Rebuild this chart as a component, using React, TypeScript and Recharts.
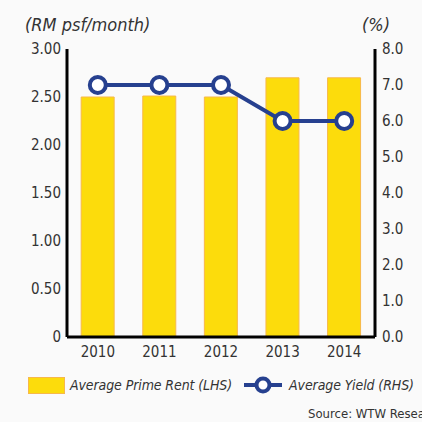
import React from "react";
import { Bar, ComposedChart, Line, XAxis, YAxis } from "recharts";

const years = ["2010", "2011", "2012", "2013", "2014"];
const primeRent = [2.5, 2.51, 2.5, 2.7, 2.7];
const avgYield = [7.0, 7.0, 7.0, 6.0, 6.0];
const rentTicks = [0, 0.5, 1, 1.5, 2, 2.5, 3];
const yieldTicks = [0, 1, 2, 3, 4, 5, 6, 7, 8];

const data = years.map((year, i) => ({
  year,
  rent: primeRent[i],
  yld: avgYield[i],
}));

const FONT = "'Liberation Sans Narrow', 'DejaVu Sans Condensed', 'Noto Sans', sans-serif";
const NAVY = "#26408f";
const YELLOW = "#fcdc0c";
const ORANGE = "#f7b84a";
const tickStyle = { fontSize: 15, fill: "#333", fontFamily: FONT };

function App() {
  return (
    <div
      style={{
        position: "absolute",
        left: 0,
        top: 0,
        width: 422,
        height: 422,
        background: "#fafafa",
        overflow: "hidden",
        fontFamily: FONT,
      }}
    >
      <ComposedChart
        width={422}
        height={422}
        data={data}
        margin={{ top: 49, right: 0, bottom: 60, left: 0 }}
        barCategoryGap="23%"
      >
        <XAxis
          dataKey="year"
          tickLine={false}
          tickSize={0}
          tickMargin={9}
          axisLine={{ stroke: "#000", strokeWidth: 3 }}
          tick={tickStyle}
          height={25}
        />
        <YAxis
          yAxisId="left"
          domain={[0, 3]}
          ticks={rentTicks}
          tickFormatter={(v: number) => (v === 0 ? "0" : v.toFixed(2))}
          tickLine={false}
          tickSize={0}
          tickMargin={6}
          axisLine={{ stroke: "#000", strokeWidth: 3 }}
          tick={tickStyle}
          width={67}
          interval={0}
        />
        <YAxis
          yAxisId="right"
          orientation="right"
          domain={[0, 8]}
          ticks={yieldTicks}
          tickFormatter={(v: number) => v.toFixed(1)}
          tickLine={false}
          tickSize={0}
          tickMargin={7}
          axisLine={{ stroke: "#000", strokeWidth: 3 }}
          tick={tickStyle}
          width={47}
          interval={0}
        />
        <Bar
          yAxisId="left"
          dataKey="rent"
          fill={YELLOW}
          stroke={ORANGE}
          strokeWidth={1}
          isAnimationActive={false}
        />
        <Line
          yAxisId="right"
          dataKey="yld"
          stroke={NAVY}
          strokeWidth={4}
          dot={{ r: 8, fill: "#fff", stroke: NAVY, strokeWidth: 4 }}
          activeDot={false}
          isAnimationActive={false}
        />
      </ComposedChart>

      <div style={{ position: "absolute", left: 25, top: 14, fontSize: 18, fontStyle: "italic", color: "#333" }}>
        (RM psf/month)
      </div>
      <div style={{ position: "absolute", left: 362, top: 14, fontSize: 18, fontStyle: "italic", color: "#333" }}>
        (%)
      </div>

      <div
        style={{
          position: "absolute",
          left: 28,
          top: 375,
          display: "flex",
          alignItems: "center",
          fontSize: 14,
          letterSpacing: -0.1,
          fontStyle: "italic",
          color: "#333",
          whiteSpace: "nowrap",
        }}
      >
        <span
          style={{
            display: "inline-block",
            width: 37,
            height: 17,
            background: YELLOW,
            border: `1px solid ${ORANGE}`,
            boxSizing: "border-box",
            marginRight: 5,
          }}
        />
        <span>Average Prime Rent (LHS)</span>
        <svg width={38} height={20} style={{ marginLeft: 12, marginRight: 7 }}>
          <line x1={0} y1={10} x2={38} y2={10} stroke={NAVY} strokeWidth={4} />
          <circle cx={19} cy={10} r={6.5} fill="#fff" stroke={NAVY} strokeWidth={4} />
        </svg>
        <span>Average Yield (RHS)</span>
      </div>

      <div style={{ position: "absolute", left: 308, top: 406, fontSize: 13, color: "#333", whiteSpace: "nowrap" }}>
        Source: WTW Research
      </div>
    </div>
  );
}

export default App;
